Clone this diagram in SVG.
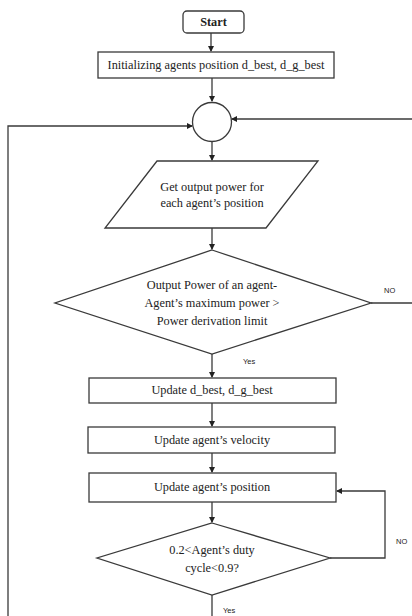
<svg xmlns="http://www.w3.org/2000/svg" width="412" height="616" viewBox="0 0 412 616">
<style>
.s{fill:#fff;stroke:#3a3a3a;stroke-width:1.3}
.t{font-family:"Liberation Serif","Times New Roman",serif;font-size:12.3px;fill:#222;text-anchor:middle}
.l{font-family:"Liberation Sans",Arial,sans-serif;font-size:7.5px;fill:#222}
.c{fill:none;stroke:#3a3a3a;stroke-width:1.3}
</style>
<defs>
<marker id="a" markerWidth="6" markerHeight="6" refX="5" refY="3" orient="auto" markerUnits="userSpaceOnUse">
<path d="M0,0 L6,3 L0,6 Z" fill="#222"/>
</marker>
</defs>
<rect width="412" height="616" fill="#fff"/>
<g id="connectors">
<line class="c" x1="211" y1="33" x2="211" y2="51" marker-end="url(#a)"/>
<line class="c" x1="212" y1="78" x2="212" y2="101" marker-end="url(#a)"/>
<line class="c" x1="212" y1="141.5" x2="212" y2="160" marker-end="url(#a)"/>
<line class="c" x1="212" y1="228" x2="212" y2="249" marker-end="url(#a)"/>
<line class="c" x1="212" y1="354" x2="212" y2="377" marker-end="url(#a)"/>
<line class="c" x1="212" y1="403" x2="212" y2="426" marker-end="url(#a)"/>
<line class="c" x1="212" y1="453" x2="212" y2="472" marker-end="url(#a)"/>
<line class="c" x1="212" y1="502" x2="212" y2="522" marker-end="url(#a)"/>
<line class="c" x1="212" y1="595" x2="212" y2="616"/>
<polyline class="c" points="371,303 412,303"/>
<polyline class="c" points="412,119 232,119" marker-end="url(#a)"/>
<polyline class="c" points="330,558 385,558 385,491 337,491" marker-end="url(#a)"/>
<polyline class="c" points="8,616 8,126 192,126" marker-end="url(#a)"/>
<text class="l" x="384" y="293">NO</text>
<text class="l" x="243" y="364">Yes</text>
<text class="l" x="396" y="544">NO</text>
<text class="l" x="223" y="613">Yes</text>
</g>
<g id="start">
<rect class="s" x="183" y="11" width="61" height="22" rx="4"/>
<text class="t" x="213.5" y="26" font-weight="bold" font-size="11">Start</text>
</g>
<g id="init">
<rect class="s" x="98" y="52" width="236" height="26"/>
<text class="t" x="216" y="69">Initializing agents position d_best, d_g_best</text>
</g>
<g id="junction">
<circle class="s" cx="212" cy="122" r="19.5"/>
</g>
<g id="getpower">
<polygon class="s" points="157,161 318,161 266,228 105,228"/>
<text class="t" x="212" y="191">Get output power for</text>
<text class="t" x="212" y="207">each agent’s position</text>
</g>
<g id="check-power">
<polygon class="s" points="212,250 371,303 212,354 55,303"/>
<text class="t" x="212" y="289">Output Power of an agent-</text>
<text class="t" x="212" y="307">Agent’s maximum power &gt;</text>
<text class="t" x="212" y="325">Power derivation limit</text>
</g>
<g id="update-best">
<rect class="s" x="89" y="378" width="247" height="25"/>
<text class="t" x="212" y="394">Update d_best, d_g_best</text>
</g>
<g id="update-velocity">
<rect class="s" x="88" y="427" width="247" height="26"/>
<text class="t" x="212" y="444">Update agent’s velocity</text>
</g>
<g id="update-position">
<rect class="s" x="89" y="473" width="247" height="29"/>
<text class="t" x="212" y="491">Update agent’s position</text>
</g>
<g id="check-duty">
<polygon class="s" points="212,523 330,558 212,595 97,558"/>
<text class="t" x="212" y="554">0.2&lt;Agent’s duty</text>
<text class="t" x="212" y="572">cycle&lt;0.9?</text>
</g>
</svg>
